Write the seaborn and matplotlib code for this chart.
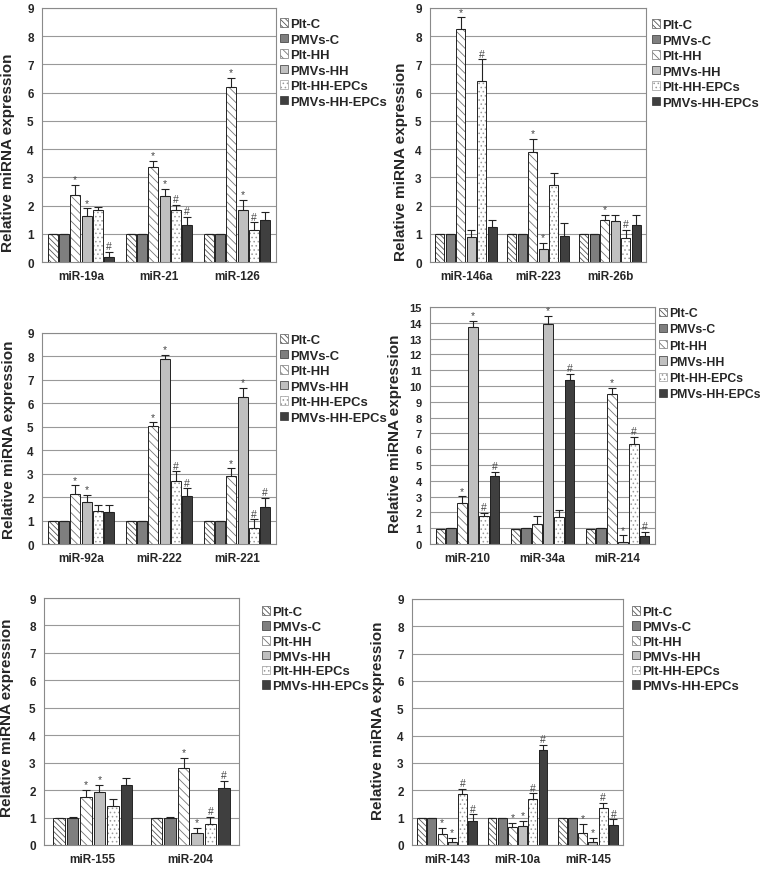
import pandas as pd
import matplotlib.pyplot as plt
import matplotlib.patches as mpatches
import seaborn as sns

groups = ['Plt-C', 'PMVs-C', 'Plt-HH', 'PMVs-HH', 'Plt-HH-EPCs', 'PMVs-HH-EPCs']

# panel A
a_mirs = ['miR-19a', 'miR-21', 'miR-126']
a_vals = [[1.0, 0.98, 2.38, 1.62, 1.85, 0.17],
          [1.0, 1.0, 3.38, 2.35, 1.83, 1.30],
          [1.0, 1.0, 6.20, 1.85, 1.15, 1.50]]
a_errs = [[0, 0, 0.35, 0.28, 0.10, 0.20],
          [0, 0, 0.20, 0.25, 0.20, 0.30],
          [0, 0, 0.32, 0.35, 0.25, 0.27]]
a_marks = [['', '', '*', '*', '', '#'],
           ['', '', '*', '*', '#', '#'],
           ['', '', '*', '*', '#', '']]

# panel B
b_mirs = ['miR-146a', 'miR-223', 'miR-26b']
b_vals = [[1.0, 1.0, 8.25, 0.88, 6.40, 1.23],
          [1.0, 1.0, 3.90, 0.45, 2.72, 0.92],
          [1.0, 1.0, 1.48, 1.45, 0.85, 1.30]]
b_errs = [[0, 0, 0.42, 0.27, 0.78, 0.25],
          [0, 0, 0.45, 0.22, 0.42, 0.46],
          [0, 0, 0.20, 0.20, 0.30, 0.35]]
b_marks = [['', '', '*', '', '#', ''],
           ['', '', '*', '*', '', ''],
           ['', '', '*', '', '#', '']]

# panel C
c_mirs = ['miR-92a', 'miR-222', 'miR-221']
c_vals = [[1.0, 1.0, 2.12, 1.78, 1.42, 1.38],
          [1.0, 1.0, 5.02, 7.88, 2.68, 2.03],
          [1.0, 1.0, 2.88, 6.28, 0.70, 1.57]]
c_errs = [[0, 0, 0.38, 0.33, 0.25, 0.27],
          [0, 0, 0.17, 0.17, 0.42, 0.35],
          [0, 0, 0.35, 0.38, 0.35, 0.40]]
c_marks = [['', '', '*', '*', '', ''],
           ['', '', '*', '*', '#', '#'],
           ['', '', '*', '*', '#', '#']]

# panel D
d_mirs = ['miR-210', 'miR-34a', 'miR-214']
d_vals = [[0.95, 1.0, 2.60, 13.75, 1.75, 4.30],
          [0.95, 1.0, 1.28, 13.90, 1.72, 10.40],
          [0.95, 1.0, 9.50, 0.10, 6.32, 0.50]]
d_errs = [[0, 0, 0.42, 0.35, 0.22, 0.25],
          [0, 0, 0.52, 0.52, 0.45, 0.35],
          [0, 0, 0.40, 0.45, 0.45, 0.28]]
d_marks = [['', '', '*', '*', '#', '#'],
           ['', '', '', '*', '', '#'],
           ['', '', '*', '*', '#', '#']]

# panel E
e_mirs = ['miR-155', 'miR-204']
e_vals = [[1.0, 1.0, 1.75, 1.93, 1.43, 2.20],
          [1.0, 1.0, 2.82, 0.45, 0.78, 2.08]]
e_errs = [[0, 0.02, 0.27, 0.25, 0.25, 0.23],
          [0, 0.02, 0.35, 0.17, 0.25, 0.27]]
e_marks = [['', '', '*', '*', '', ''],
           ['', '', '*', '*', '#', '#']]

# panel F
f_mirs = ['miR-143', 'miR-10a', 'miR-145']
f_vals = [[1.0, 1.0, 0.40, 0.10, 1.85, 0.87],
          [1.0, 1.0, 0.65, 0.68, 1.67, 3.47],
          [1.0, 1.0, 0.45, 0.12, 1.35, 0.72]]
f_errs = [[0, 0, 0.22, 0.17, 0.20, 0.25],
          [0, 0, 0.15, 0.20, 0.22, 0.20],
          [0, 0, 0.32, 0.15, 0.20, 0.22]]
f_marks = [['', '', '*', '*', '#', '#'],
           ['', '', '*', '*', '#', '#'],
           ['', '', '*', '*', '#', '#']]

# estilo de cada grupo: relleno, trama, color de trama
fills = ['white', '#7f7f7f', 'white', '#c0c0c0', 'white', '#3f3f3f']
hatches = ['\\\\\\\\\\\\', None, '\\\\\\\\', None, '....', None]
hatch_cols = ['#555555', '#333333', '#777777', '#333333', '#9a9a9a', '#333333']

sns.set_style('white')
plt.rcParams['font.family'] = ['Liberation Sans', 'DejaVu Sans']
plt.rcParams['font.weight'] = 'bold'
plt.rcParams['hatch.linewidth'] = 0.6

fig = plt.figure(figsize=(7.63, 8.70), dpi=100)


def panel(rect, mirs, vals, errs, marks, ymax, lab_xy, leg_xy, ytick_fs=8.5, width=0.87,
          leg_fs=9.4, leg_sp=0.27):
    ax = fig.add_axes(rect)
    df = pd.DataFrame(vals, index=mirs, columns=groups).reset_index()
    df = df.melt(id_vars='index', var_name='group', value_name='value')
    sns.barplot(data=df, x='index', y='value', hue='group', order=mirs, hue_order=groups,
                palette=fills, width=width, gap=0.12, errorbar=None, legend=False,
                linewidth=0, ax=ax, zorder=2)

    bar_conts = list(ax.containers)
    for i, cont in enumerate(bar_conts):
        for j, p in enumerate(cont.patches):
            if hatches[i]:
                p.set_hatch(hatches[i])
            p.set_edgecolor(hatch_cols[i])
            p.set_linewidth(0)
            # contorno negro fino
            ax.add_patch(mpatches.Rectangle(p.get_xy(), p.get_width(), p.get_height(),
                                            fill=False, ec='#222222', lw=0.7, zorder=3))
            x = p.get_x() + p.get_width() / 2
            top = p.get_height()
            e = errs[j][i]
            ax.errorbar([x], [top], yerr=[[0], [e]], fmt='none', ecolor='#222222',
                        elinewidth=0.8, capsize=2.6, capthick=0.8, zorder=4)
            if marks[j][i]:
                ax.annotate(marks[j][i], (x, top + e), xytext=(0, 0.5),
                            textcoords='offset points', ha='center', va='bottom',
                            fontsize=7.5, color='#444444', fontweight='normal')

    n = len(mirs)
    ax.set_xlim(-0.5, n - 0.5)
    ax.set_ylim(0, ymax)
    ax.set_yticks(range(0, ymax + 1))
    ax.set_xticks([k - 0.5 for k in range(n + 1)], minor=True)
    ax.tick_params(axis='x', which='major', length=0, pad=6, labelsize=8.5)
    ax.tick_params(axis='x', which='minor', length=4, color='#888888', width=0.8)
    ax.tick_params(axis='y', length=3, color='#888888', width=0.8, pad=3, labelsize=ytick_fs)
    ax.yaxis.grid(True, color='#999999', lw=0.8, zorder=0)
    ax.set_axisbelow(True)
    for s in ax.spines.values():
        s.set_color('#8a8a8a')
        s.set_linewidth(0.8)
    ax.set_xlabel('')
    ax.set_ylabel('Relative miRNA expression', fontsize=11, fontweight='bold')
    ax.yaxis.set_label_coords(*lab_xy)

    handles = [mpatches.Patch(facecolor=fills[i], hatch=hatches[i], edgecolor=hatch_cols[i],
                              lw=0.5, label=g) for i, g in enumerate(groups)]
    ax.legend(handles=handles, loc='upper left', bbox_to_anchor=leg_xy,
              bbox_transform=fig.transFigure, frameon=False, fontsize=leg_fs,
              handlelength=0.65, handleheight=0.65, handletextpad=0.15,
              labelspacing=leg_sp, borderpad=0, borderaxespad=0)
    return ax


W, H = 763, 870


def rect(l, r, t, b):
    return [l / W, (H - b) / H, (r - l) / W, (b - t) / H]


def leg(x, y):
    return (x / W, (H - y) / H)


panel(rect(42, 276, 9, 263), a_mirs, a_vals, a_errs, a_marks, 9, (-0.115, 0.433), leg(280, 19))
panel(rect(430, 646, 9, 263), b_mirs, b_vals, b_errs, b_marks, 9, (-0.102, 0.40), leg(652, 20))
panel(rect(42, 276, 334, 545), c_mirs, c_vals, c_errs, c_marks, 9, (-0.111, 0.50), leg(280, 335))
panel(rect(430, 655, 308, 545), d_mirs, d_vals, d_errs, d_marks, 15, (-0.124, 0.47), leg(659, 308),
      ytick_fs=8, leg_fs=8.8, leg_sp=0.35)
panel(rect(44, 239, 599, 846), e_mirs, e_vals, e_errs, e_marks, 9, (-0.154, 0.52), leg(262, 607),
      width=0.83, leg_sp=0.22)
panel(rect(412, 623, 600, 846), f_mirs, f_vals, f_errs, f_marks, 9, (-0.128, 0.51), leg(632, 607),
      leg_sp=0.22)

fig.savefig('out.png', dpi=100)
